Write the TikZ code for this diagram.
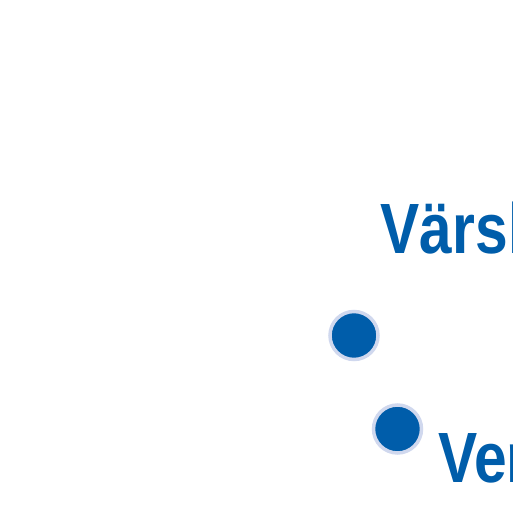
\documentclass[tikz,border=0pt]{standalone}
\usepackage{fontspec}
\setmainfont[FakeStretch=0.825]{Liberation Sans}
\usepackage{tikz}
\usetikzlibrary{positioning}
\definecolor{mapblue}{HTML}{005DAA}
\definecolor{ringblue}{HTML}{D0D8EE}

\begin{document}
\begin{tikzpicture}[x=1pt,y=1pt,
    town/.style={circle,fill=mapblue,draw=ringblue,line width=3.5pt,minimum size=48pt,inner sep=0pt},
    townlabel/.style={anchor=base west,inner sep=0pt,text=mapblue,font=\fontsize{71.2}{80}\selectfont\bfseries}]
    \useasboundingbox (0,0) rectangle (513,513);
    \node[town] (d1) at (354,177.5) {};
    \node[town] (d2) at (397.5,84) {};
    \node[townlabel] (l1) at (380.5,259) {Värsk};
    \node[townlabel] (l2) at (438,30) {Ver};
\end{tikzpicture}
\end{document}
